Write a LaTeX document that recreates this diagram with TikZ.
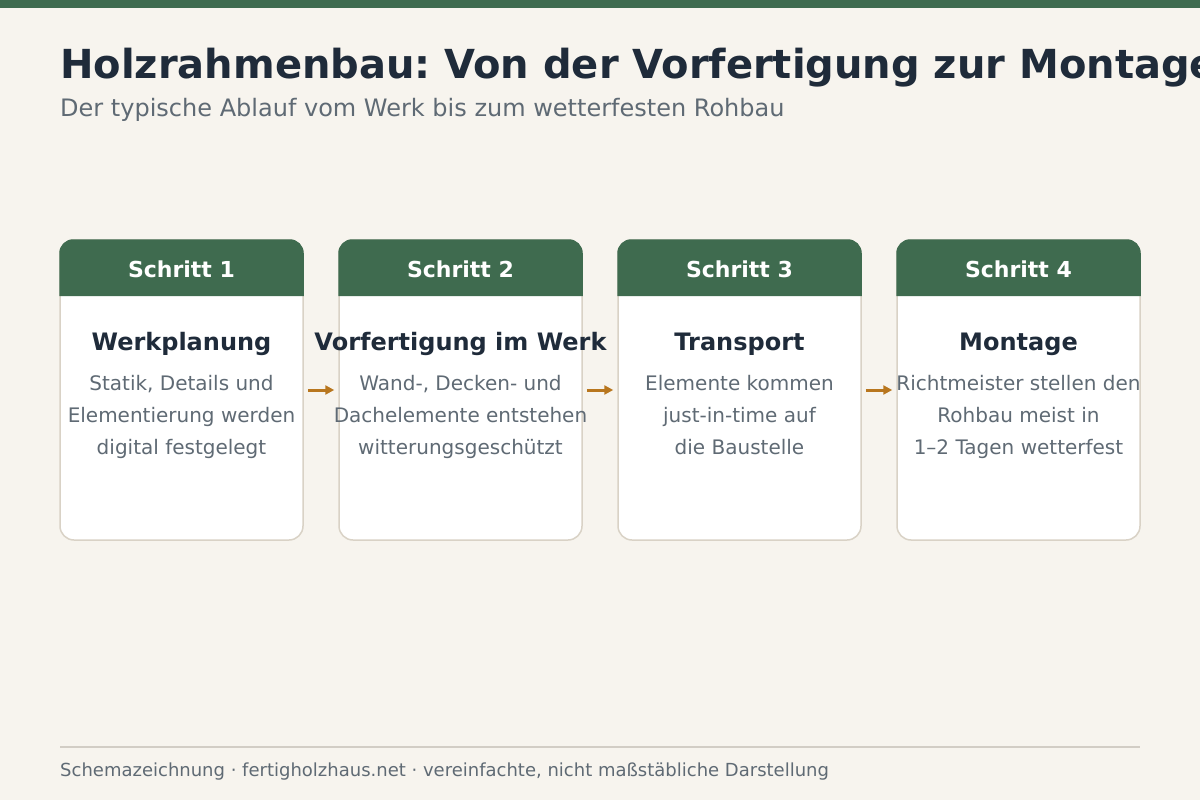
\documentclass[tikz,border=0pt]{standalone}
\usepackage{fontspec}
\setmainfont{DejaVu Sans}
\usetikzlibrary{positioning,arrows.meta}
\definecolor{bgcream}{HTML}{F7F4EE}
\definecolor{woodgreen}{HTML}{3F6B4F}
\definecolor{inkdark}{HTML}{1F2B3A}
\definecolor{inkgray}{HTML}{5F6A74}
\definecolor{cardline}{HTML}{D9D2C6}
\definecolor{amber}{HTML}{B8761E}
\definecolor{ruleline}{HTML}{D2CDC5}
\frenchspacing

\begin{document}
\begin{tikzpicture}[x=1pt, y=-1pt,
    card/.style={draw=cardline, line width=1.5pt, fill=white, rounded corners=14pt,
        minimum width=243pt, minimum height=300pt, inner sep=0pt},
    headtext/.style={text=white, font=\bfseries\fontsize{22}{26}\selectfont},
    steptitle/.style={text=inkdark, font=\bfseries\fontsize{24}{28}\selectfont},
    stepbody/.style={text=inkgray, align=center, font=\fontsize{20}{32}\selectfont},
    flow/.style={draw=amber, line width=3pt, -{Triangle[length=9pt,width=9pt]},
        shorten <=4pt, shorten >=4pt}]
    \useasboundingbox (0,0) rectangle (1200,800);
    \fill[bgcream] (0,0) rectangle (1200,800);
    \fill[woodgreen] (0,0) rectangle (1200,8);
    % title block
    \node[anchor=base west, inner sep=0pt, text=inkdark, font=\bfseries\fontsize{40}{46}\selectfont] (title) at (60,79) {Holzrahmenbau: Von der Vorfertigung zur Montage};
    \node[anchor=base west, inner sep=0pt, text=inkgray, font=\fontsize{24}{28}\selectfont] (subtitle) at (60,116) {Der typische Ablauf vom Werk bis zum wetterfesten Rohbau};
    % cards
    \node[card] (s1) at (181.5,390) {};
    \node[card] (s2) at (460.5,390) {};
    \node[card] (s3) at (739.5,390) {};
    \node[card] (s4) at (1018.5,390) {};
    % green headers
    \fill[woodgreen] (s1.west |- 0,296) [rounded corners=14pt] -- (s1.north west) -- (s1.north east) [sharp corners] -- (s1.east |- 0,296) -- cycle;
    \fill[woodgreen] (s2.west |- 0,296) [rounded corners=14pt] -- (s2.north west) -- (s2.north east) [sharp corners] -- (s2.east |- 0,296) -- cycle;
    \fill[woodgreen] (s3.west |- 0,296) [rounded corners=14pt] -- (s3.north west) -- (s3.north east) [sharp corners] -- (s3.east |- 0,296) -- cycle;
    \fill[woodgreen] (s4.west |- 0,296) [rounded corners=14pt] -- (s4.north west) -- (s4.north east) [sharp corners] -- (s4.east |- 0,296) -- cycle;
    \node[headtext, anchor=base] (h1) at (181.5,277) {Schritt 1};
    \node[headtext, anchor=base] (h2) at (460.5,277) {Schritt 2};
    \node[headtext, anchor=base] (h3) at (739.5,277) {Schritt 3};
    \node[headtext, anchor=base] (h4) at (1018.5,277) {Schritt 4};
    % arrows between steps
    \draw[flow] (s1.east) -- (s2.west);
    \draw[flow] (s2.east) -- (s3.west);
    \draw[flow] (s3.east) -- (s4.west);
    % step contents
    \node[steptitle, anchor=base] (t1) at (181.5,350) {Werkplanung};
    \node[steptitle, anchor=base] (t2) at (460.5,350) {Vorfertigung im Werk};
    \node[steptitle, anchor=base] (t3) at (739.5,350) {Transport};
    \node[steptitle, anchor=base] (t4) at (1018.5,350) {Montage};
    \node[stepbody, anchor=north] (b1) at (181.5,372) {Statik, Details und\\Elementierung werden\\digital festgelegt};
    \node[stepbody, anchor=north] (b2) at (460.5,372) {Wand-, Decken- und\\Dachelemente entstehen\\witterungsgeschützt};
    \node[stepbody, anchor=north] (b3) at (739.5,372) {Elemente kommen\\just-in-time auf\\die Baustelle};
    \node[stepbody, anchor=north] (b4) at (1018.5,372) {Richtmeister stellen den\\Rohbau meist in\\1–2 Tagen wetterfest};
    % footer
    \coordinate (fl) at (60,747);
    \coordinate (fr) at (1140,747);
    \draw[ruleline, line width=1.5pt] (fl) -- (fr);
    \node[anchor=base west, inner sep=0pt, text=inkgray, font=\fontsize{18}{22}\selectfont] (foot) at (60,776) {Schemazeichnung · fertigholzhaus.net · vereinfachte, nicht maßstäbliche Darstellung};
\end{tikzpicture}
\end{document}
